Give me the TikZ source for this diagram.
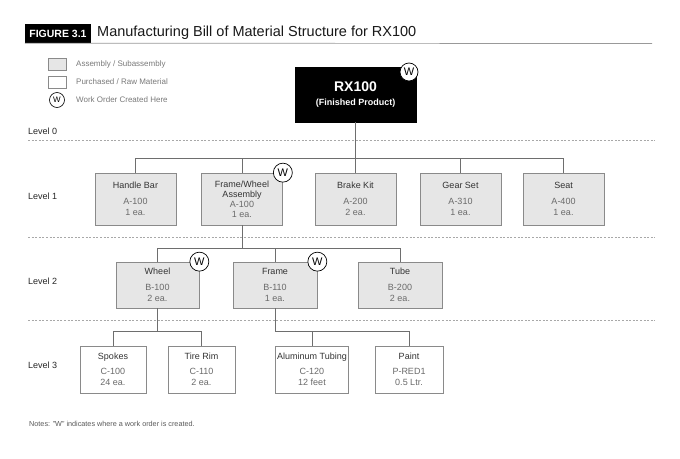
\documentclass[tikz,border=0pt]{standalone}
\usepackage{fontspec}
\setmainfont{Liberation Sans}
\usetikzlibrary{calc}
\definecolor{asmfill}{HTML}{E6E6E6}
\definecolor{boxline}{HTML}{8A8A8A}
\definecolor{linecol}{HTML}{6E6E6E}
\definecolor{dashcol}{HTML}{A8A8A8}
\definecolor{titlegray}{HTML}{333333}
\definecolor{codegray}{HTML}{6A6A6A}
\definecolor{legendgray}{HTML}{7A7A7A}
\newcommand{\cg}[1]{\textcolor{codegray}{#1}}
\begin{document}
\begin{tikzpicture}[x=1pt,y=-1pt,
  asm/.style={draw=boxline, fill=asmfill, line width=0.7pt, align=center, inner sep=0pt,
     text=titlegray, font=\fontsize{9}{11}\selectfont},
  raw/.style={asm, fill=white},
  wo/.style={circle, draw=black, fill=white, line width=0.7pt, minimum size=19pt, inner sep=0pt,
     font=\fontsize{11}{11}\selectfont},
  conn/.style={draw=linecol, line width=0.7pt},
  lvline/.style={draw=dashcol, line width=0.6pt, dash pattern=on 2pt off 1.6pt},
  lvlabel/.style={anchor=west, inner sep=0pt, text=black!85, font=\fontsize{9}{10}\selectfont},
  legtext/.style={anchor=west, inner sep=0pt, text=legendgray, font=\fontsize{8}{10}\selectfont}
]
\useasboundingbox (0,0) rectangle (680,458);
\fill[white] (0,0) rectangle (680,458);

% title
\node[fill=black, text=white, font=\fontsize{10.5}{12}\selectfont\bfseries, minimum width=66pt, minimum height=19pt, inner sep=0pt] (fig) at (58,33.5) {FIGURE 3.1};
\node[anchor=west, inner sep=0pt, font=\fontsize{14.5}{16}\selectfont, text=black!90] (title) at (97,33) {Manufacturing Bill of Material Structure for RX100};
\coordinate (ulend) at (652,43.5);
\draw[draw=black!40, line width=0.7pt] (fig.south west) -- (ulend);

% legend
\node[draw=boxline, fill=asmfill, line width=0.7pt, minimum width=18pt, minimum height=12pt, inner sep=0pt] (lg1) at (57,64) {};
\node[draw=boxline, fill=white, line width=0.7pt, minimum width=18pt, minimum height=12pt, inner sep=0pt] (lg2) at (57,82) {};
\node[circle, draw=black, fill=white, line width=0.6pt, minimum size=15pt, inner sep=0pt, font=\fontsize{8}{8}\selectfont] (lg3) at (57,100) {W};
\node[legtext] (lt1) at (76,64) {Assembly / Subassembly};
\node[legtext] (lt2) at (76,82) {Purchased / Raw Material};
\node[legtext] (lt3) at (76,100) {Work Order Created Here};

% level lines and labels
\foreach \yy/\nm in {140/d0,237/d1,320/d2}{
  \coordinate (\nm a) at (28,\yy); \coordinate (\nm b) at (655,\yy);
  \draw[lvline] (\nm a) -- (\nm b);
}
\node[lvlabel] (l0) at (28,131) {Level 0};
\node[lvlabel] (l1) at (28,196) {Level 1};
\node[lvlabel] (l2) at (28,281) {Level 2};
\node[lvlabel] (l3) at (28,365) {Level 3};

% level 0
\node[fill=black, draw=black, minimum width=121pt, minimum height=55pt, align=center, text=white, inner sep=0pt] (rx) at (355.5,94.5)
  {{\fontsize{14}{16}\selectfont\bfseries RX100}\\[2pt]{\fontsize{9}{11}\selectfont\bfseries (Finished Product)}};
\node[wo, minimum size=18pt] (w0) at (409,72) {W};

% level 1
\node[asm, minimum width=81pt, minimum height=52pt] (hb) at (135.5,199) {Handle Bar\\[4.5pt]\cg{A-100}\\\cg{1 ea.}};
\node[asm, minimum width=81pt, minimum height=52pt, font=\fontsize{9}{10}\selectfont] (fw) at (242,199) {Frame/Wheel\\Assembly\\\cg{A-100}\\\cg{1 ea.}};
\node[asm, minimum width=81pt, minimum height=52pt] (bk) at (355.5,199) {Brake Kit\\[4.5pt]\cg{A-200}\\\cg{2 ea.}};
\node[asm, minimum width=81pt, minimum height=52pt] (gs) at (460.5,199) {Gear Set\\[4.5pt]\cg{A-310}\\\cg{1 ea.}};
\node[asm, minimum width=81pt, minimum height=52pt] (st) at (563.5,199) {Seat\\[4.5pt]\cg{A-400}\\\cg{1 ea.}};

% level 2
\node[asm, minimum width=83pt, minimum height=46pt] (wh) at (157.5,285) {Wheel\\[4.5pt]\cg{B-100}\\\cg{2 ea.}};
\node[asm, minimum width=84pt, minimum height=46pt] (fr) at (275,285) {Frame\\[4.5pt]\cg{B-110}\\\cg{1 ea.}};
\node[asm, minimum width=84pt, minimum height=46pt] (tu) at (400,285) {Tube\\[4.5pt]\cg{B-200}\\\cg{2 ea.}};

% level 3
\node[raw, minimum width=66pt, minimum height=47pt] (sp) at (113,369.5) {Spokes\\[4pt]\cg{C-100}\\\cg{24 ea.}};
\node[raw, minimum width=67pt, minimum height=47pt] (tr) at (201.5,369.5) {Tire Rim\\[4pt]\cg{C-110}\\\cg{2 ea.}};
\node[raw, minimum width=73pt, minimum height=47pt] (al) at (312,369.5) {Aluminum Tubing\\[4pt]\cg{C-120}\\\cg{12 feet}};
\node[raw, minimum width=68pt, minimum height=47pt] (pa) at (409,369.5) {Paint\\[4pt]\cg{P-RED1}\\\cg{0.5 Ltr.}};

% connectors
\coordinate (bus1) at (0,158);
\coordinate (bus2) at (0,248);
\coordinate (bus3) at (0,331);
\draw[conn] (rx.south) -- (rx.south |- bus1);
\draw[conn] (hb.north |- bus1) -- (st.north |- bus1);
\foreach \n in {hb,fw,bk,gs,st}{\draw[conn] (\n.north) -- (\n.north |- bus1);}
\draw[conn] (fw.south) -- (fw.south |- bus2);
\draw[conn] (wh.north |- bus2) -- (tu.north |- bus2);
\foreach \n in {wh,fr,tu}{\draw[conn] (\n.north) -- (\n.north |- bus2);}
\draw[conn] (wh.south) -- (wh.south |- bus3);
\draw[conn] (sp.north |- bus3) -- (tr.north |- bus3);
\foreach \n in {sp,tr,al,pa}{\draw[conn] (\n.north) -- (\n.north |- bus3);}
\draw[conn] (fr.south) -- (fr.south |- bus3) -- (pa.north |- bus3);

% W markers (drawn over boxes)
\node[wo] (w1) at (fw.north east) {W};
\node[wo] (w2) at (wh.north east) {W};
\node[wo] (w3) at (fr.north east) {W};

% notes
\node[anchor=west, inner sep=0pt, text=black!65, font=\fontsize{7.25}{8}\selectfont] (notes) at (29,424) {Notes: "W" indicates where a work order is created.};
\end{tikzpicture}
\end{document}
